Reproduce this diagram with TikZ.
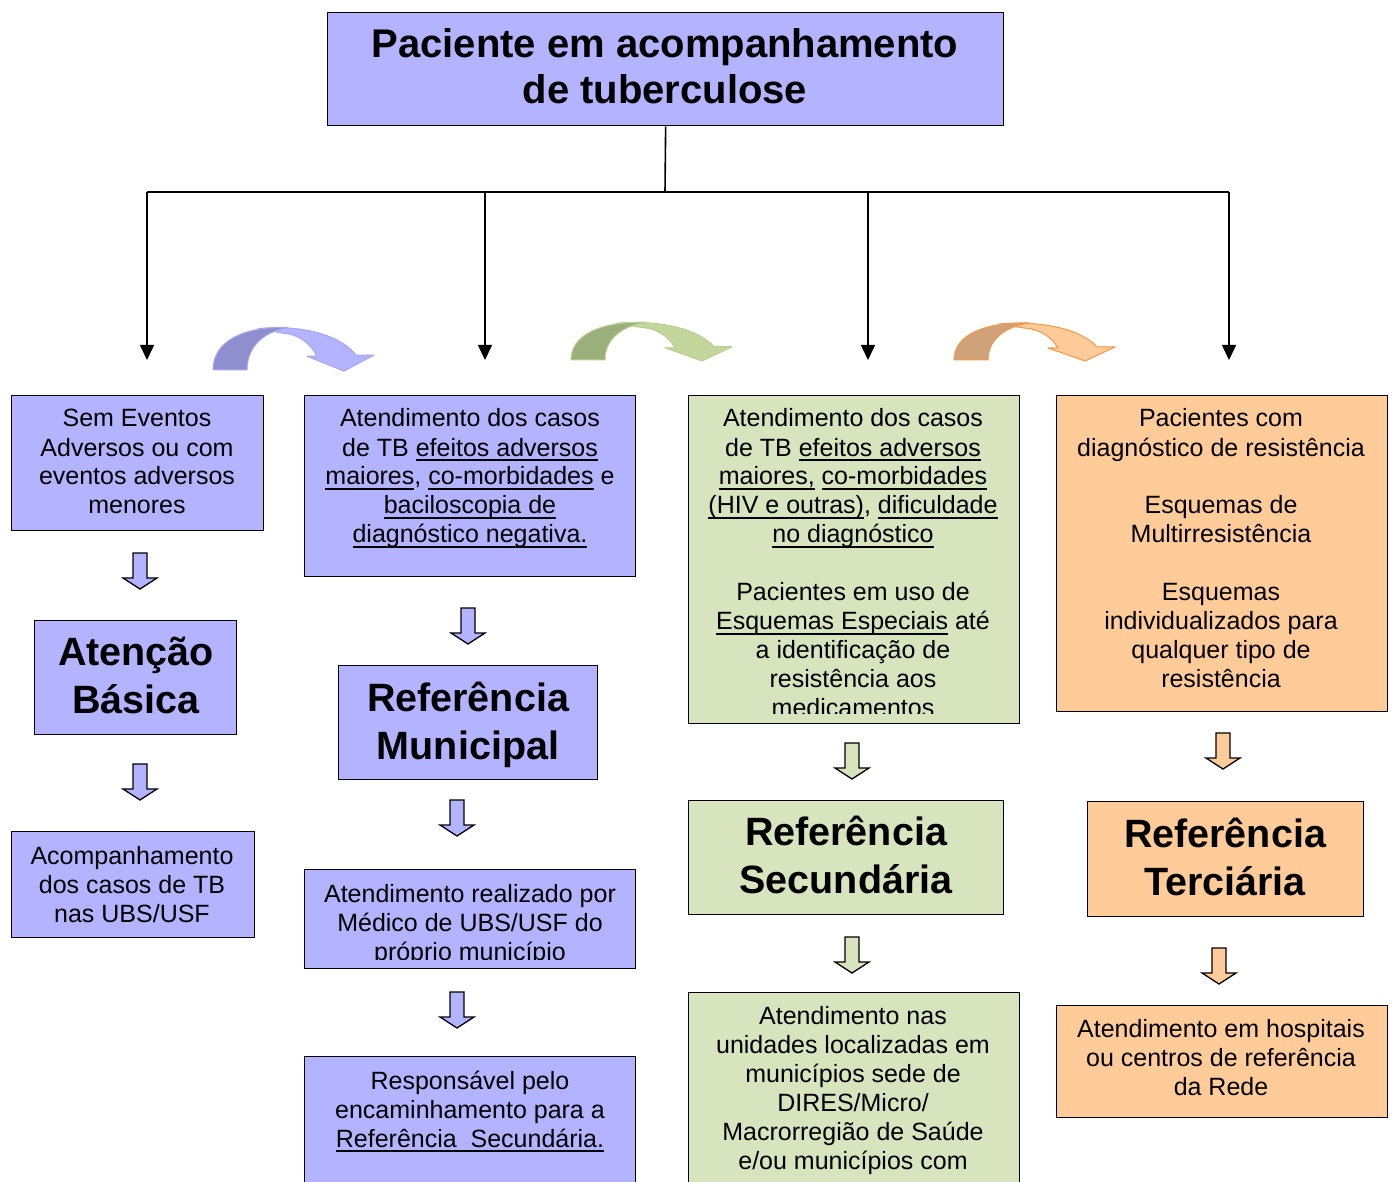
\documentclass[tikz,border=0pt]{standalone}
\usepackage{fontspec}
\setmainfont{Liberation Sans}
\usetikzlibrary{arrows.meta}
\definecolor{lav}{HTML}{B3B3FF}
\definecolor{lavdark}{HTML}{8F8FD0}
\definecolor{lavline}{HTML}{A6A6F2}
\definecolor{grn}{HTML}{D7E4BD}
\definecolor{grnlight}{HTML}{C3D69B}
\definecolor{grndark}{HTML}{9BAF7B}
\definecolor{grnline}{HTML}{B9CF92}
\definecolor{org}{HTML}{FFCC99}
\definecolor{orgdark}{HTML}{CFA27A}
\definecolor{orgline}{HTML}{F79646}
\newcommand\ulx[1]{\leavevmode\setbox0\hbox{#1}\rlap{\vrule height -3.3pt depth 4.8pt width \wd0}\box0\relax}
\newcommand\blockarrow[3]{%
  \draw[blockarr, fill=#3] (#1-7,#2) -- (#1+7,#2) -- (#1+7,#2+25) -- (#1+17,#2+25)
    -- (#1,#2+36) -- (#1-17,#2+25) -- (#1-7,#2+25) -- cycle;}
\newcommand\curvedarrow[6]{%
  \begin{scope}[shift={(#1,#2)}, yscale=#3]
    \draw[line width=1pt, draw=#6, fill=#4, line join=round]
      (45,-36) .. controls (95,-40) and (130,-28) .. (143,-13) -- (161,-13) -- (131,1)
      -- (94,-12) -- (104,-12) .. controls (97,-24) and (85,-31) .. (70,-32) -- cycle;
    \draw[line width=1pt, draw=#6, fill=#5, line join=round]
      (0,0) .. controls (0,-25) and (30,-38) .. (75,-37) .. controls (50,-33) and (34,-20) .. (34,0) -- cycle;
  \end{scope}}
\tikzset{
  box/.style={draw=black, line width=1.3pt, inner sep=0pt, anchor=north west},
  txt/.style={anchor=base, inner sep=0pt, font={\fontsize{25}{29}\selectfont}},
  bigtxt/.style={anchor=base, inner sep=0pt, font={\fontsize{39.5}{48}\selectfont\bfseries}},
  conn/.style={line width=1.6pt, draw=black},
  blockarr/.style={line width=1.3pt, draw=black, line join=miter}
}
\begin{document}
\begin{tikzpicture}[x=1pt, y=-1pt]
\useasboundingbox (0,0) rectangle (1393,1182);

% title
\node[box, fill=lav, minimum width=676, minimum height=113] (title) at (327,12) {};
\node[anchor=base, inner sep=0pt, font={\fontsize{40}{46}\selectfont\bfseries}] (titletxt) at (665,58)
  {\parbox[t]{700pt}{\centering Paciente em acompanhamento\\de tuberculose}};

% connectors
\coordinate (j0) at (665,192);
\coordinate (jl) at (147,192);
\coordinate (j2) at (485,192);
\coordinate (j3) at (868,192);
\coordinate (jr) at (1229,192);
\coordinate (e1) at (147,360);
\coordinate (e2) at (485,360);
\coordinate (e3) at (868,360);
\coordinate (e4) at (1229,360);
\draw[conn] (title.south) -- (j0);
\draw[conn] (jl) -- (jr);
\foreach \a/\b in {jl/e1, j2/e2, j3/e3, jr/e4}
  \draw[conn, -{Triangle[length=15pt, width=14pt]}] (\a) -- (\b);

% curved arrows
\curvedarrow{213}{370}{1.15}{lav}{lavdark}{lavline}
\curvedarrow{571}{360}{1.02}{grnlight}{grndark}{grnline}
\curvedarrow{954}{360}{1.0}{org}{orgdark}{orgline}

% column 1
\node[box, fill=lav, minimum width=252, minimum height=135] (b1) at (11,395) {};
\node[txt] (b1t) at (137,427) {\parbox[t]{260pt}{\centering Sem Eventos\\Adversos ou com\\eventos adversos\\menores}};
\blockarrow{140}{553}{lav}
\node[box, fill=lav, minimum width=202, minimum height=114] (b1a) at (34,620) {};
\node[bigtxt] (b1at) at (136,665) {\parbox[t]{220pt}{\centering Atenção\\Básica}};
\blockarrow{140}{764}{lav}
\node[box, fill=lav, minimum width=243, minimum height=106] (b1b) at (11,831) {};
\node[txt] (b1bt) at (132,864) {\parbox[t]{250pt}{\centering Acompanhamento\\dos casos de TB\\nas UBS/USF}};

% column 2
\node[box, fill=lav, minimum width=331, minimum height=181] (b2) at (304,395) {};
\node[txt] (b2t) at (470,427) {\parbox[t]{330pt}{\centering Atendimento dos casos\\de TB \ulx{efeitos adversos}\\\ulx{maiores}, \ulx{co-morbidades} e\\\ulx{baciloscopia de}\\\ulx{diagnóstico negativa.}}};
\blockarrow{468}{608}{lav}
\node[box, fill=lav, minimum width=259, minimum height=114] (b2a) at (338,665) {};
\node[bigtxt] (b2at) at (468,711) {\parbox[t]{280pt}{\centering Referência\\Municipal}};
\blockarrow{457}{800}{lav}
\node[box, fill=lav, minimum width=331, minimum height=99] (b2b) at (304,869) {};
\begin{scope}
  \clip (304,869) rectangle (635,959);
  \node[txt] (b2bt) at (470,902) {\parbox[t]{330pt}{\centering Atendimento realizado por\\Médico de UBS/USF do\\próprio município}};
\end{scope}
\blockarrow{457}{992}{lav}
\node[box, fill=lav, minimum width=331, minimum height=134] (b2c) at (304,1056) {};
\node[txt] (b2ct) at (470,1089) {\parbox[t]{330pt}{\centering Responsável pelo\\encaminhamento para a\\\ulx{Referência\ \ Secundária.}}};

% column 3
\node[box, fill=grn, minimum width=331, minimum height=328] (b3) at (688,395) {};
\begin{scope}
  \clip (688,395) rectangle (1019,713);
  \node[txt] (b3t) at (853,427) {\parbox[t]{330pt}{\centering Atendimento dos casos\\de TB \ulx{efeitos adversos}\\\ulx{maiores,} \ulx{co-morbidades}\\\ulx{(HIV e outras)}, \ulx{dificuldade}\\\ulx{no diagnóstico}\\[29pt]Pacientes em uso de\\\ulx{Esquemas Especiais} até\\a identificação de\\resistência aos\\medicamentos}};
\end{scope}
\blockarrow{852}{743}{grn}
\node[box, fill=grn, minimum width=315, minimum height=114] (b3a) at (688,800) {};
\node[bigtxt] (b3at) at (846,845) {\parbox[t]{320pt}{\centering Referência\\Secundária}};
\blockarrow{852}{937}{grn}
\node[box, fill=grn, minimum width=331, minimum height=198] (b3b) at (688,992) {};
\node[txt] (b3bt) at (853,1024) {\parbox[t]{330pt}{\centering Atendimento nas\\unidades localizadas em\\municípios sede de\\DIRES/Micro/\\Macrorregião de Saúde\\e/ou municípios com}};

% column 4
\node[box, fill=org, minimum width=331, minimum height=316] (b4) at (1056,395) {};
\node[txt] (b4t) at (1221,427) {\parbox[t]{330pt}{\centering Pacientes com\\diagnóstico de resistência\\[29pt]Esquemas de\\Multirresistência\\[29pt]Esquemas\\individualizados para\\qualquer tipo de\\resistência}};
\blockarrow{1223}{733}{org}
\node[box, fill=org, minimum width=276, minimum height=115] (b4a) at (1087,801) {};
\node[bigtxt] (b4at) at (1225,847) {\parbox[t]{290pt}{\centering Referência\\Terciária}};
\blockarrow{1219}{948}{org}
\node[box, fill=org, minimum width=331, minimum height=112] (b4b) at (1056,1005) {};
\node[txt] (b4bt) at (1221,1037) {\parbox[t]{330pt}{\centering Atendimento em hospitais\\ou centros de referência\\da Rede}};
\end{tikzpicture}
\end{document}
